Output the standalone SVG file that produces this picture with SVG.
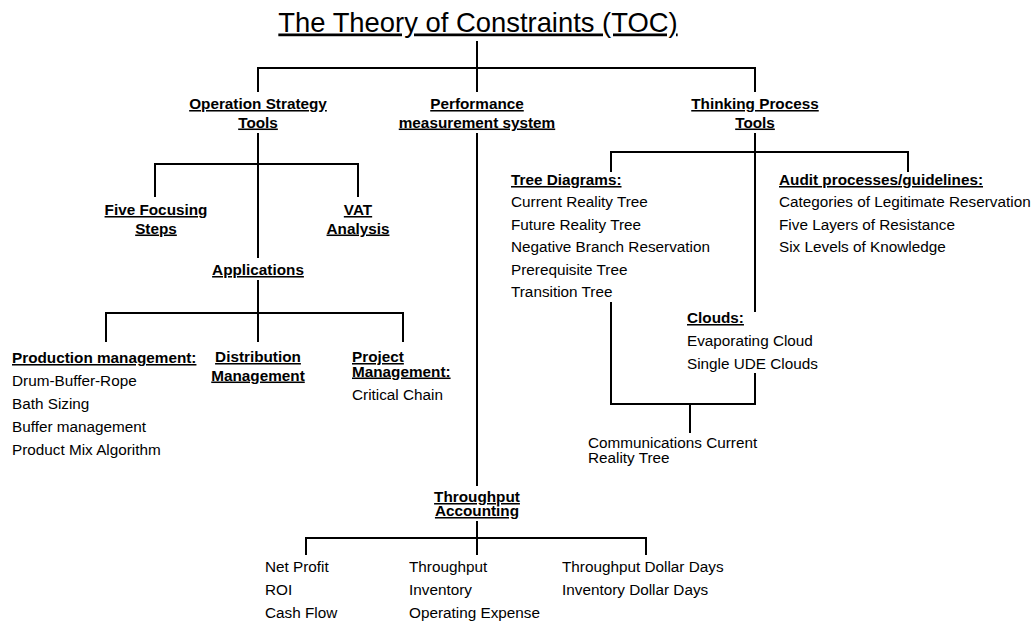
<svg xmlns="http://www.w3.org/2000/svg" width="1032" height="622" viewBox="0 0 1032 622">
<style>
text{font-family:"Liberation Sans",Arial,sans-serif;font-size:15.3px;fill:#000}
.b{font-weight:bold;text-decoration:underline}
.c{text-anchor:middle}
.title{font-size:27.4px;text-decoration:underline}
.con path{fill:none;stroke:#000;stroke-width:2}
</style>
<rect width="1032" height="622" fill="#fff"/>
<g id="connectors" class="con">
<path d="M477,41 V68"/>
<path d="M258,92 V68 H755 V92"/>
<path d="M477,68 V92"/>
<path d="M258,133 V258"/>
<path d="M155,197 V164 H358 V197"/>
<path d="M258,280 V342"/>
<path d="M106,342 V313 H403 V342"/>
<path d="M477,133 V486"/>
<path d="M477,521 V555"/>
<path d="M306,555 V538 H646 V555"/>
<path d="M755,133 V312"/>
<path d="M611,172 V152 H908 V172"/>
<path d="M611,302 V404 H755 V373"/>
<path d="M690,404 V433"/>
</g>
<g id="title"><text class="title c" x="478" y="31.5">The Theory of Constraints (TOC)</text></g>
<g id="n-ost"><text class="b c" x="258" y="109">Operation Strategy</text><text class="b c" x="258" y="127.5">Tools</text></g>
<g id="n-pms"><text class="b c" x="477" y="109">Performance</text><text class="b c" x="477" y="127.5">measurement system</text></g>
<g id="n-tpt"><text class="b c" x="755" y="109">Thinking Process</text><text class="b c" x="755" y="127.5">Tools</text></g>
<g id="n-ffs"><text class="b c" x="156" y="215">Five Focusing</text><text class="b c" x="156" y="233.5">Steps</text></g>
<g id="n-vat"><text class="b c" x="358" y="215">VAT</text><text class="b c" x="358" y="233.5">Analysis</text></g>
<g id="n-app"><text class="b c" x="258" y="275">Applications</text></g>
<g id="n-prod"><text class="b" x="12" y="363">Production management:</text><text x="12" y="386">Drum-Buffer-Rope</text><text x="12" y="409">Bath Sizing</text><text x="12" y="432">Buffer management</text><text x="12" y="455">Product Mix Algorithm</text></g>
<g id="n-dist"><text class="b c" x="258" y="362">Distribution</text><text class="b c" x="258" y="380.5">Management</text></g>
<g id="n-proj"><text class="b" x="352" y="362">Project</text><text class="b" x="352" y="376.5">Management:</text><text x="352" y="400">Critical Chain</text></g>
<g id="n-tree"><text class="b" x="511" y="185">Tree Diagrams:</text><text x="511" y="207">Current Reality Tree</text><text x="511" y="229.5">Future Reality Tree</text><text x="511" y="252">Negative Branch Reservation</text><text x="511" y="274.5">Prerequisite Tree</text><text x="511" y="297">Transition Tree</text></g>
<g id="n-audit"><text class="b" x="779" y="185">Audit processes/guidelines:</text><text x="779" y="207">Categories of Legitimate Reservation</text><text x="779" y="229.5">Five Layers of Resistance</text><text x="779" y="252">Six Levels of Knowledge</text></g>
<g id="n-clouds"><text class="b" x="687" y="323">Clouds:</text><text x="687" y="346">Evaporating Cloud</text><text x="687" y="369">Single UDE Clouds</text></g>
<g id="n-ccrt"><text x="588" y="448">Communications Current</text><text x="588" y="462.5">Reality Tree</text></g>
<g id="n-ta"><text class="b c" x="477" y="502">Throughput</text><text class="b c" x="477" y="516">Accounting</text></g>
<g id="n-np"><text x="265" y="572">Net Profit</text><text x="265" y="595">ROI</text><text x="265" y="618">Cash Flow</text></g>
<g id="n-tp"><text x="409" y="572">Throughput</text><text x="409" y="595">Inventory</text><text x="409" y="618">Operating Expense</text></g>
<g id="n-tdd"><text x="562" y="572">Throughput Dollar Days</text><text x="562" y="595">Inventory Dollar Days</text></g>
</svg>
